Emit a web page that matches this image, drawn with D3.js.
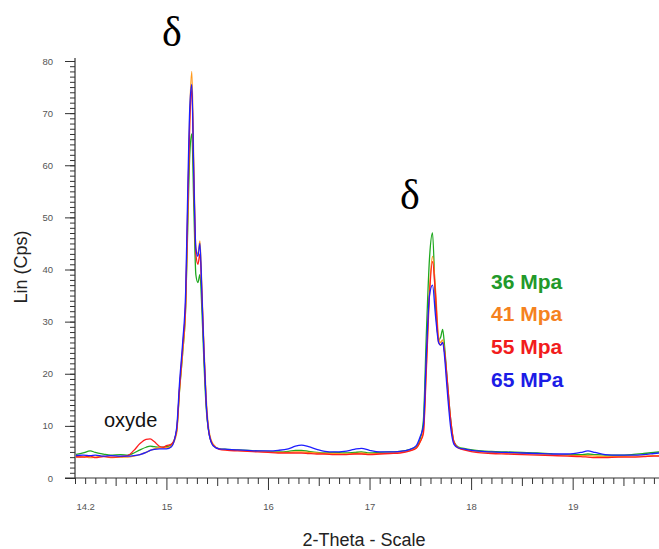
<!DOCTYPE html>
<html>
<head>
<meta charset="utf-8">
<script src="https://cdn.jsdelivr.net/npm/d3@7"></script>
<style>
  html, body { margin: 0; padding: 0; background: #fff; }
  svg { display: block; }
</style>
</head>
<body>
<svg id="chart" width="659" height="549"></svg>
<script>
// ---------- DATA ----------
const twoTheta = [
  14.10, 14.18, 14.25, 14.30, 14.38, 14.45, 14.55, 14.62, 14.68, 14.74, 14.80, 14.84, 14.88, 14.93, 14.97,
  15.00, 15.05, 15.10, 15.13, 15.16, 15.19, 15.21, 15.23, 15.25, 15.27, 15.29, 15.31, 15.33, 15.35, 15.37, 15.39, 15.42, 15.46, 15.52,
  15.60, 15.70, 15.80, 15.90, 16.00, 16.10, 16.20, 16.27, 16.33, 16.40, 16.48, 16.56, 16.65, 16.75, 16.85, 16.92, 17.00, 17.10, 17.20, 17.30, 17.40,
  17.46, 17.50, 17.53, 17.56, 17.59, 17.62, 17.65, 17.68, 17.70, 17.72, 17.74, 17.76, 17.80, 17.83, 17.87, 17.95,
  18.05, 18.20, 18.35, 18.50, 18.65, 18.80, 18.95, 19.08, 19.15, 19.22, 19.32, 19.45, 19.58, 19.70, 19.80, 19.85
];

const mpa36 = [
  4.5, 4.8, 5.2, 4.9, 4.6, 4.4, 4.5, 4.4, 4.8, 5.4, 5.9, 6.1, 6.0, 5.9, 5.9,
  6.0, 6.4, 9.0, 17, 24, 33, 48, 62, 66, 52, 39, 37.5, 39, 32, 22, 14, 8.5, 6.3, 5.6,
  5.5, 5.4, 5.3, 5.2, 5.1, 5.0, 5.1, 5.3, 5.3, 5.1, 4.9, 4.8, 4.9, 4.8, 4.9, 5.0, 4.8, 4.9, 5.0, 5.1, 5.5,
  6.0, 7.5, 11, 28, 42, 47, 33, 26.5, 27, 28.5, 25, 20, 11, 7, 6, 5.6,
  5.3, 5.1, 5.0, 4.9, 4.8, 4.6, 4.5, 4.5, 4.6, 4.5, 4.4, 4.4, 4.5, 4.7, 4.9, 5.0
];
const mpa41 = [
  4.0, 4.1, 3.9, 4.0, 4.2, 3.9, 4.0, 4.0, 4.2, 4.5, 4.9, 5.3, 5.6, 5.8, 5.8,
  5.8, 6.2, 8.5, 17, 24, 33, 50, 70, 78, 60, 44, 43, 45.5, 36, 25, 16, 9, 6.5, 5.6,
  5.4, 5.3, 5.2, 5.1, 5.0, 4.9, 4.9, 5.0, 5.0, 4.9, 4.8, 4.7, 4.7, 4.6, 4.7, 4.8, 4.6, 4.7, 4.8, 5.0, 5.3,
  5.8, 7.0, 9, 22, 36, 42.5, 36, 27, 26, 26.5, 24, 19, 10.5, 6.8, 5.8, 5.4,
  5.1, 4.9, 4.8, 4.7, 4.6, 4.5, 4.4, 4.3, 4.3, 4.2, 4.1, 4.1, 4.2, 4.2, 4.3, 4.3
];
const mpa55 = [
  4.1, 4.0, 4.2, 3.9, 4.1, 4.0, 4.1, 4.3, 5.3, 6.6, 7.4, 7.5, 7.0, 6.1, 5.9,
  6.2, 6.5, 9, 17.5, 25, 34, 52, 68, 74.5, 57, 43, 41, 43, 35, 24, 15, 8.5, 6.3, 5.5,
  5.3, 5.2, 5.1, 5.0, 4.9, 4.8, 4.8, 4.8, 4.8, 4.7, 4.6, 4.6, 4.5, 4.5, 4.6, 4.6, 4.5, 4.6, 4.7, 4.8, 5.2,
  5.7, 7.0, 8.5, 21, 35, 41.5, 35, 26, 25.5, 26, 24, 20, 11, 7, 5.8, 5.3,
  4.9, 4.7, 4.6, 4.5, 4.4, 4.3, 4.2, 4.1, 4.0, 3.9, 3.9, 4.0, 4.0, 4.1, 4.2, 4.2
];
const mpa65 = [
  4.3, 4.4, 4.3, 4.4, 4.2, 4.3, 4.2, 4.2, 4.3, 4.5, 4.9, 5.3, 5.5, 5.6, 5.6,
  5.6, 6.0, 9.5, 18.5, 26, 36, 55, 71, 75.5, 58, 44, 42.5, 45, 35, 24, 15, 8.5, 6.2, 5.6,
  5.5, 5.4, 5.3, 5.2, 5.2, 5.3, 5.6, 6.1, 6.3, 6.0, 5.5, 5.1, 5.0, 5.1, 5.5, 5.7, 5.3, 5.0, 5.0, 5.1, 5.5,
  6.2, 8.0, 10, 24, 35, 37, 31, 26, 25.5, 26, 23, 18, 9.5, 6.5, 5.8, 5.5,
  5.2, 5.0, 4.9, 4.8, 4.7, 4.6, 4.6, 4.9, 5.2, 4.9, 4.5, 4.4, 4.4, 4.5, 4.7, 4.8
];

const seriesNames = ["36 Mpa", "41 Mpa", "55 Mpa", "65 MPa"];
const seriesValues = [mpa36, mpa41, mpa55, mpa65];
const lineColors = ["#1fa81f", "#ff9a1e", "#ff1e1e", "#1e1eff"];
const legendColors = ["#22992a", "#f5821f", "#f21c1c", "#1c1ce6"];

const xTickLabels = [14.2, 15, 16, 17, 18, 19];
const yTickLabels = [0, 10, 20, 30, 40, 50, 60, 70, 80];

// ---------- SCALES ----------
const svg = d3.select("#chart");
const x = d3.scaleLinear().domain([14.1, 19.85]).range([75, 659]);
const y = d3.scaleLinear().domain([0, 80]).range([478, 61]);

// ---------- AXES ----------
const axisColor = "#333";
const labelColor = "#555";
const tickFont = "Arial, 'Liberation Sans', sans-serif";

// y minor ticks
svg.append("g").attr("transform", "translate(75,0)")
  .call(d3.axisLeft(y).tickValues(d3.range(0, 81, 1)).tickSize(5).tickFormat(""))
  .call(g => g.select(".domain").remove())
  .call(g => g.selectAll("line").attr("stroke", axisColor));
// y major ticks with labels
svg.append("g").attr("transform", "translate(75,0)")
  .call(d3.axisLeft(y).tickValues(yTickLabels).tickSize(10).tickPadding(12).tickFormat(d3.format("d")))
  .call(g => g.select(".domain").remove())
  .call(g => g.selectAll("line").attr("stroke", axisColor))
  .call(g => g.selectAll("text").attr("fill", labelColor).style("font-family", tickFont).style("font-size", "9.5px"));
// y axis line
svg.append("line").attr("x1", 75).attr("x2", 75).attr("y1", 58).attr("y2", 478).attr("stroke", axisColor).attr("stroke-width", 1.2);

// x minor ticks
const xMinor = d3.range(141, 199).map(d => d / 10);
svg.append("g").attr("transform", "translate(0,478)")
  .call(d3.axisBottom(x).tickValues(xMinor.filter(d => Math.abs(d * 2 - Math.round(d * 2)) > 1e-6)).tickSize(6).tickFormat(""))
  .call(g => g.select(".domain").remove())
  .call(g => g.selectAll("line").attr("stroke", axisColor));
svg.append("g").attr("transform", "translate(0,478)")
  .call(d3.axisBottom(x).tickValues([14.5, 15.5, 16.5, 17.5, 18.5, 19.5]).tickSize(8).tickFormat(""))
  .call(g => g.select(".domain").remove())
  .call(g => g.selectAll("line").attr("stroke", axisColor));
svg.append("g").attr("transform", "translate(0,478)")
  .call(d3.axisBottom(x).tickValues([15, 16, 17, 18, 19]).tickSize(12).tickFormat(""))
  .call(g => g.select(".domain").remove())
  .call(g => g.selectAll("line").attr("stroke", axisColor));
// x labels
svg.append("g").attr("transform", "translate(0,478)")
  .call(d3.axisBottom(x).tickValues(xTickLabels).tickSize(0).tickPadding(25).tickFormat(d => d === 14.2 ? "14.2" : d3.format("d")(d)))
  .call(g => g.select(".domain").remove())
  .call(g => g.selectAll("text").attr("fill", labelColor).style("font-family", tickFont).style("font-size", "9.5px"));
// x axis line
svg.append("line").attr("x1", 65).attr("x2", 659).attr("y1", 478).attr("y2", 478).attr("stroke", axisColor).attr("stroke-width", 1.2);

// ---------- LINES ----------
svg.append("clipPath").attr("id", "plotClip")
  .append("rect").attr("x", 76).attr("y", 0).attr("width", 583).attr("height", 478);

const line = d3.line().x(d => x(d[0])).y(d => y(d[1])).curve(d3.curveMonotoneX);
const plot = svg.append("g").attr("clip-path", "url(#plotClip)");
seriesValues.forEach((vals, i) => {
  plot.append("path")
    .datum(twoTheta.map((t, j) => [t, vals[j]]))
    .attr("fill", "none")
    .attr("stroke", lineColors[i])
    .attr("stroke-width", 1.3)
    .attr("stroke-linejoin", "round")
    .attr("d", line);
});

// ---------- TEXT ----------
svg.append("text").attr("x", 364).attr("y", 546).attr("text-anchor", "middle")
  .style("font-family", "Arial, 'Liberation Sans', sans-serif").style("font-size", "18px").attr("fill", "#222")
  .text("2-Theta - Scale");
svg.append("text").attr("transform", "translate(27,267) rotate(-90)").attr("text-anchor", "middle")
  .style("font-family", "Arial, 'Liberation Sans', sans-serif").style("font-size", "18px").attr("fill", "#222")
  .text("Lin (Cps)");

svg.append("text").attr("x", 172).attr("y", 46).attr("text-anchor", "middle")
  .style("font-family", "'Liberation Serif', 'Times New Roman', serif").style("font-size", "42px").attr("fill", "#000")
  .text("δ");
svg.append("text").attr("x", 410).attr("y", 209).attr("text-anchor", "middle")
  .style("font-family", "'Liberation Serif', 'Times New Roman', serif").style("font-size", "42px").attr("fill", "#000")
  .text("δ");

svg.append("text").attr("x", 104).attr("y", 427)
  .style("font-family", "Arial, 'Liberation Sans', sans-serif").style("font-size", "20px").attr("fill", "#111")
  .text("oxyde");

// legend
const legendY = [289, 321, 354, 387];
seriesNames.forEach((n, i) => {
  svg.append("text").attr("x", 491).attr("y", legendY[i])
    .style("font-family", "Arial, 'Liberation Sans', sans-serif").style("font-size", "21px").style("font-weight", "bold")
    .attr("fill", legendColors[i]).text(n);
});
</script>
</body>
</html>
